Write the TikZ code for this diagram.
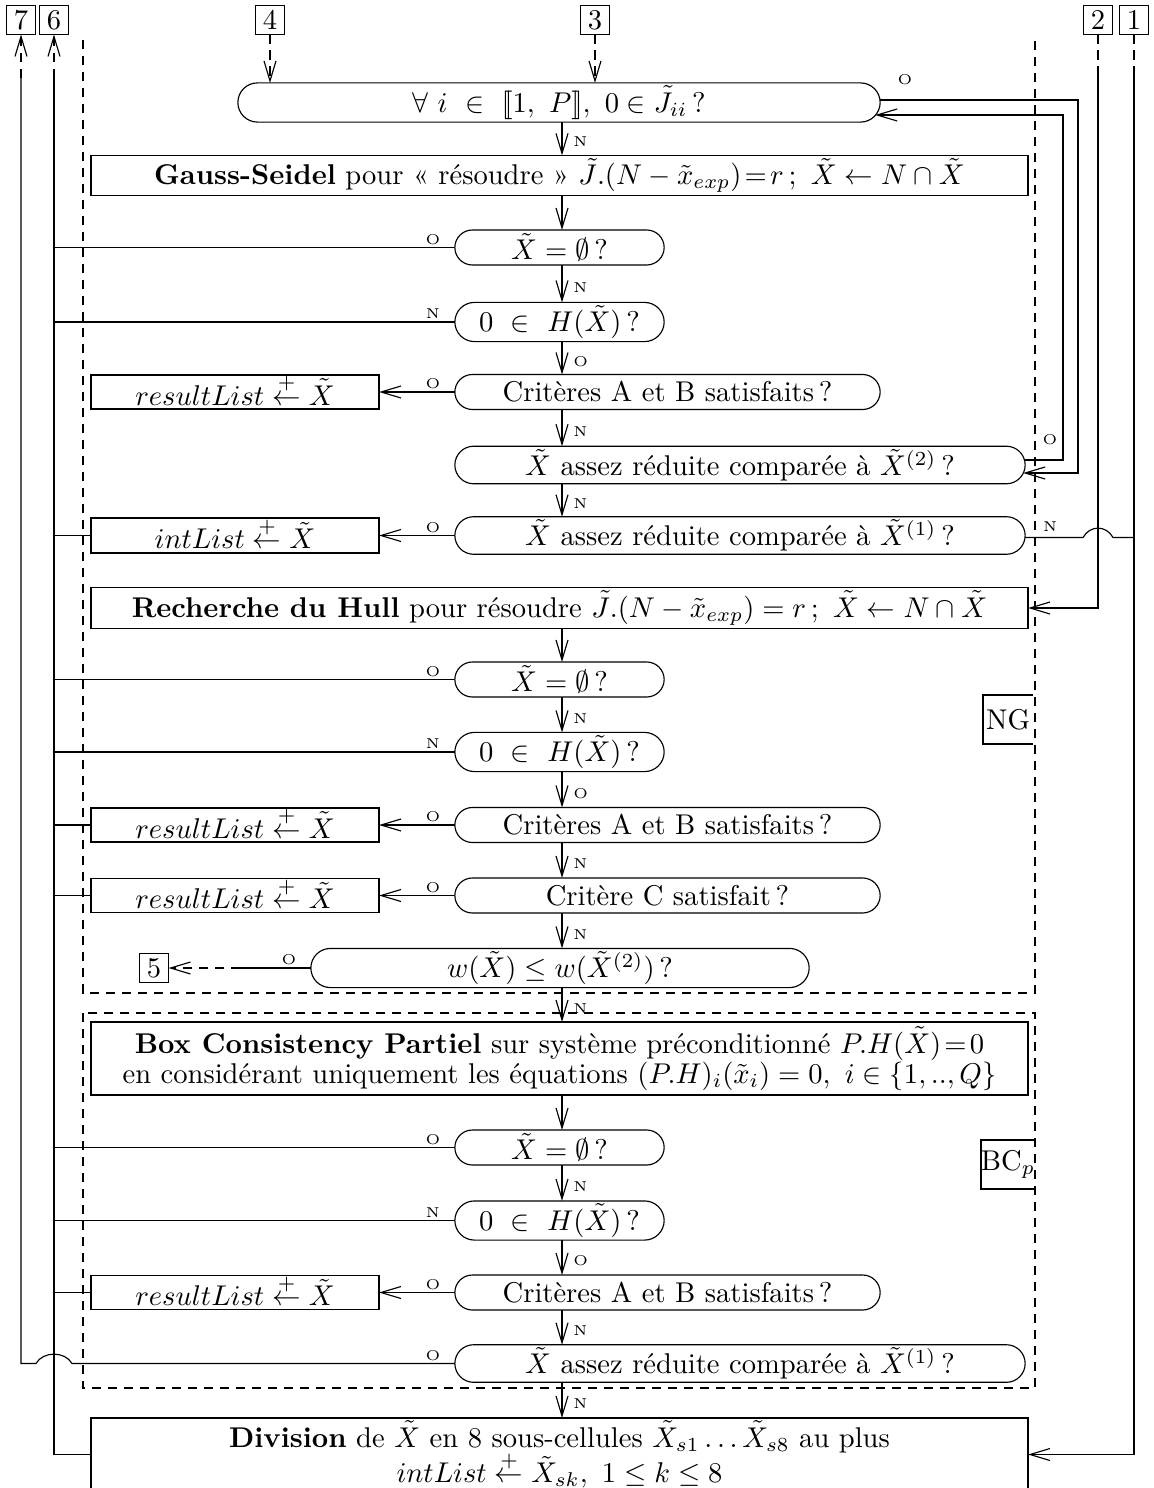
\documentclass[tikz,border=0pt]{standalone}
\usepackage{amsmath,amssymb}
\usetikzlibrary{shapes.misc,arrows.meta,calc}
\newcommand{\addto}{\mathrel{\smash{\stackrel{+}{\leftarrow}}}}
\begin{document}
\begin{tikzpicture}[x=0.35pt,y=-0.35pt,
  every node/.style={outer sep=0pt},
  rr/.style={draw,rounded rectangle,minimum height=35*0.35pt,inner sep=1pt},
  bx/.style={draw,rectangle,minimum height=35*0.35pt,inner sep=1pt},
  lab/.style={font=\tiny,inner sep=1pt},
  vlab/.style={lab,right=3pt,pos=0.6},
  olab/.style={lab,pos=0,anchor=center,xshift=-7.7pt,yshift=2.8pt},
  tag/.style={draw,rectangle,minimum width=29*0.35pt,minimum height=29*0.35pt,inner sep=0pt},
  arr/.style={-{Straight Barb[length=7pt,width=4.2pt]}},
  dsh/.style={dash pattern=on 3.2pt off 2.4pt}
]
\useasboundingbox (0,0) rectangle (1153,1488);

% off-page tags
\node[tag] (b7) at (21,20) {7};
\node[tag] (b6) at (54,20) {6};
\node[tag] (b4) at (270,20) {4};
\node[tag] (b3) at (595,20) {3};
\node[tag] (b2) at (1098,20) {2};
\node[tag] (b1) at (1134,20) {1};
\coordinate (ax) at (562,0);

% frames
\draw[dsh] (83,40) -- (83,993) -- (1035,993) -- (1035,40);
\draw[dsh] (83,1013) rectangle (1035,1388);
\node[inner sep=0pt,minimum width=50*0.35pt,minimum height=49*0.35pt] (ng) at (1008,719.5) {NG};
\draw (ng.north east) -- (ng.north west) -- (ng.south west) -- (ng.south east);
\node[inner sep=0pt,minimum width=50*0.35pt,minimum height=49*0.35pt] (bcp) at (1008,1164.5) {BC$_p$};
\draw (bcp.north east) -- (bcp.north west) -- (bcp.south west) -- (bcp.south east);

% NG part
\node[rr,minimum width=648*0.35pt] (t1) at (559,102.5) {$\forall\ i\ \in\ [\![1,\ P]\!],\ 0\in\tilde{J}_{ii}\,?$};
\node[bx,minimum width=937*0.35pt] (gs) at (559.5,175.5) {\textbf{Gauss-Seidel} pour « résoudre » $\tilde{J}.(N-\tilde{x}_{exp})\!=\!r\,;\ \tilde{X}\leftarrow N\cap\tilde{X}$};
\node[rr,minimum width=215*0.35pt] (e1) at (559.5,247.5) {$\tilde{X}=\emptyset\,?$};
\node[rr,minimum width=215*0.35pt] (h1) at (559.5,322) {$0\ \in\ H(\tilde{X})\,?$};
\node[rr,minimum width=431*0.35pt] (c1) at (667.5,392) {Critères A et B satisfaits\,?};
\node[bx,minimum width=288*0.35pt,minimum height=34*0.35pt] (r1) at (235,392) {$resultList\addto\tilde{X}$};
\node[rr,minimum width=576*0.35pt,minimum height=36*0.35pt] (a2) at (740,465) {$\tilde{X}$ assez réduite comparée à $\tilde{X}^{(2)}$\,?};
\node[rr,minimum width=576*0.35pt,minimum height=36*0.35pt] (a1) at (740,535.5) {$\tilde{X}$ assez réduite comparée à $\tilde{X}^{(1)}$\,?};
\node[bx,minimum width=288*0.35pt,minimum height=35*0.35pt] (il) at (235,535.5) {$intList\addto\tilde{X}$};
\node[bx,minimum width=937*0.35pt,minimum height=36*0.35pt] (rh) at (559.5,608) {\textbf{Recherche du Hull} pour résoudre $\tilde{J}.(N-\tilde{x}_{exp})=r\,;\ \tilde{X}\leftarrow N\cap\tilde{X}$};
\node[rr,minimum width=215*0.35pt] (e2) at (559.5,679.5) {$\tilde{X}=\emptyset\,?$};
\node[rr,minimum width=215*0.35pt] (h2) at (559.5,752) {$0\ \in\ H(\tilde{X})\,?$};
\node[rr,minimum width=431*0.35pt] (c2) at (667.5,825) {Critères A et B satisfaits\,?};
\node[bx,minimum width=288*0.35pt,minimum height=34*0.35pt] (r2) at (235,825) {$resultList\addto\tilde{X}$};
\node[rr,minimum width=431*0.35pt] (cc) at (667.5,895.5) {Critère C satisfait\,?};
\node[bx,minimum width=288*0.35pt,minimum height=34*0.35pt] (r3) at (235,895.5) {$resultList\addto\tilde{X}$};
\node[rr,minimum width=504*0.35pt,minimum height=36*0.35pt] (w) at (560,968) {$w(\tilde{X})\le w(\tilde{X}^{(2)})\,?$};
\node[tag] (five) at (154,968) {5};

% BC part
\node[bx,minimum width=937*0.35pt,minimum height=73*0.35pt,align=center] (bc) at (559.5,1058.5) {\textbf{Box Consistency Partiel} sur système préconditionné $P.H(\tilde{X})\!=\!0$\\[-1.5pt] en considérant uniquement les équations $(P.H)_i(\tilde{x}_i)=0,\ i\in\{1,..,Q\}$};
\node[rr,minimum width=215*0.35pt] (e3) at (559.5,1147.5) {$\tilde{X}=\emptyset\,?$};
\node[rr,minimum width=215*0.35pt] (h3) at (559.5,1220.5) {$0\ \in\ H(\tilde{X})\,?$};
\node[rr,minimum width=431*0.35pt] (c3) at (667.5,1292.5) {Critères A et B satisfaits\,?};
\node[bx,minimum width=288*0.35pt,minimum height=34*0.35pt] (r4) at (235,1292.5) {$resultList\addto\tilde{X}$};
\node[rr,minimum width=576*0.35pt,minimum height=36*0.35pt] (a3) at (740,1363.5) {$\tilde{X}$ assez réduite comparée à $\tilde{X}^{(1)}$\,?};
\node[bx,minimum width=937*0.35pt,minimum height=73*0.35pt,align=center] (dv) at (559.5,1454.5) {\textbf{Division} de $\tilde{X}$ en 8 sous-cellules $\tilde{X}_{s1}\ldots\tilde{X}_{s8}$ au plus\\[-1.5pt] $intList\stackrel{+}{\leftarrow}\tilde{X}_{sk},\ 1\le k\le 8$};

% entries from 4 and 3
\draw[arr,dsh] (b4.south) -- (b4.south |- t1.north);
\draw[arr,dsh] (b3.south) -- (b3.south |- t1.north);

% vertical flow
\draw[arr] (t1.south -| ax) -- node[vlab]{N} (gs.north -| ax);
\draw[arr] (gs.south -| ax) -- (e1.north -| ax);
\draw[arr] (e1.south -| ax) -- node[vlab]{N} (h1.north -| ax);
\draw[arr] (h1.south -| ax) -- node[vlab]{O} (c1.north -| ax);
\draw[arr] (c1.south -| ax) -- node[vlab]{N} (a2.north -| ax);
\draw[arr] (a2.south -| ax) -- node[vlab]{N} (a1.north -| ax);
\draw[arr] (rh.south -| ax) -- (e2.north -| ax);
\draw[arr] (e2.south -| ax) -- node[vlab]{N} (h2.north -| ax);
\draw[arr] (h2.south -| ax) -- node[vlab]{O} (c2.north -| ax);
\draw[arr] (c2.south -| ax) -- node[vlab]{N} (cc.north -| ax);
\draw[arr] (cc.south -| ax) -- node[vlab]{N} (w.north -| ax);
\draw[arr] (w.south -| ax) -- node[vlab]{N} (bc.north -| ax);
\draw[arr] (bc.south -| ax) -- (e3.north -| ax);
\draw[arr] (e3.south -| ax) -- node[vlab]{N} (h3.north -| ax);
\draw[arr] (h3.south -| ax) -- node[vlab]{O} (c3.north -| ax);
\draw[arr] (c3.south -| ax) -- node[vlab]{N} (a3.north -| ax);
\draw[arr] (a3.south -| ax) -- node[vlab]{N} (dv.north -| ax);

% left exits to results
\draw[arr] (c1.west) -- node[olab]{O} (r1.east);
\draw[arr] (a1.west) -- node[olab]{O} (il.east);
\draw[arr] (c2.west) -- node[olab]{O} (r2.east);
\draw[arr] (cc.west) -- node[olab]{O} (r3.east);
\draw[arr] (c3.west) -- node[olab]{O} (r4.east);
\draw (w.west) -- node[olab]{O} (240,968);
\draw[arr,dsh] (240,968) -- (five.east);

% line 6
\draw[arr,dsh] (b6.south |- 0,78) -- (b6.south);
\draw (dv.west) -- (dv.west -| b6.south) -- (b6.south |- 0,78);
\draw (e1.west) -- node[olab]{O} (e1.west -| b6.south);
\draw (h1.west) -- node[olab]{N} (h1.west -| b6.south);
\draw (il.west) -- (il.west -| b6.south);
\draw (e2.west) -- node[olab]{O} (e2.west -| b6.south);
\draw (h2.west) -- node[olab]{N} (h2.west -| b6.south);
\draw (r2.west) -- (r2.west -| b6.south);
\draw (r3.west) -- (r3.west -| b6.south);
\draw (e3.west) -- node[olab]{O} (e3.west -| b6.south);
\draw (h3.west) -- node[olab]{N} (h3.west -| b6.south);
\draw (r4.west) -- (r4.west -| b6.south);

% line 7
\draw[arr,dsh] (b7.south |- 0,78) -- (b7.south);
\draw (a3.west) -- node[olab]{O} (72,1363.5) .. controls (65,1351) and (43,1351) .. (36,1363.5) -- (b7.south |- a3.west) -- (b7.south |- 0,78);

% right loops
\draw[arr] ($(t1.east)+(0,-2.5)$) -- (1078,100) -- (1078,473) -- ($(a2.east)+(-2,8)$);
\draw[arr] ($(a2.east)+(-0.5,-5)$) -- (1063,460) -- (1063,115) -- ($(t1.east)+(-5,12.5)$);
\node[lab] (lo1) at (905,80) {O};
\node[lab] (lo2) at (1050,440) {O};

% lines 2 and 1
\draw[dsh] (b2.south) -- (b2.south |- 0,75);
\draw[arr] (b2.south |- 0,75) |- (rh.east);
\draw[dsh] (b1.south) -- (b1.south |- 0,75);
\draw[arr] (b1.south |- 0,75) |- (dv.east);
\draw ($(a1.east)+(0,2)$) -- (1083,537.5) .. controls (1090,525) and (1106,525) .. (1113,537.5) -- (b1.south |- 0,537.5);
\node[lab] (ln1) at (1050,527) {N};
\end{tikzpicture}
\end{document}
